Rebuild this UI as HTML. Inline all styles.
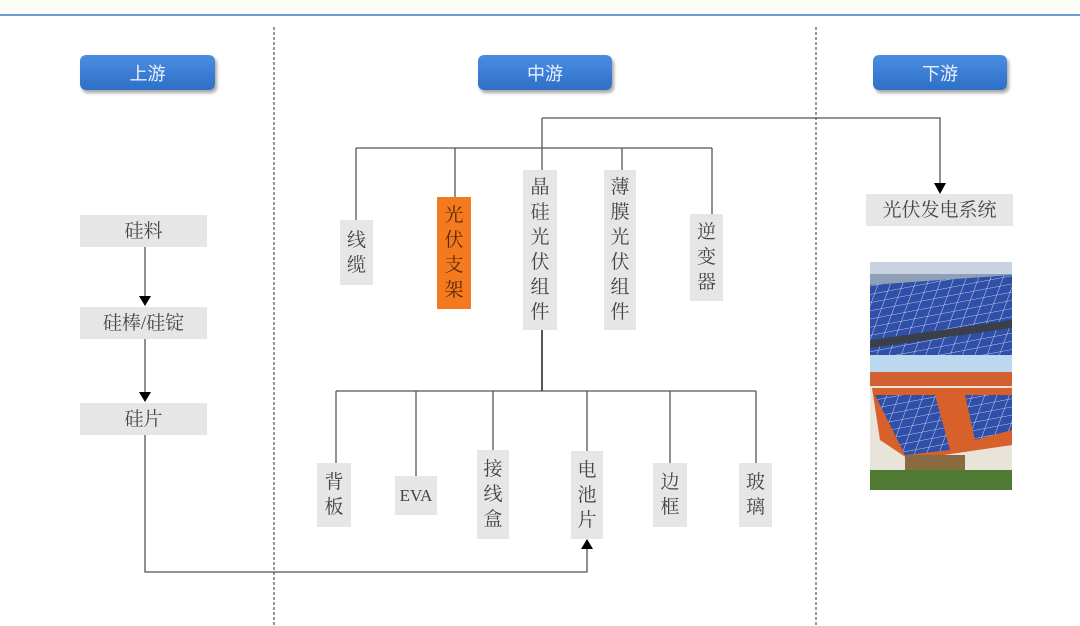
<!DOCTYPE html>
<html><head><meta charset="utf-8"><style>
body{margin:0;width:1080px;height:626px;background:#fff;overflow:hidden;position:relative;font-family:"Liberation Serif","Noto Serif CJK SC",serif;}
.b{position:absolute;background:#e6e6e6;color:#444;font-size:19px;display:flex;align-items:center;justify-content:center;text-align:center;line-height:25px;}
.v{flex-direction:column;}
.h{position:absolute;background:linear-gradient(#4a8ee0,#2f6fc8);border-radius:6px;color:#e8f0ff;font-size:18px;display:flex;align-items:center;justify-content:center;box-shadow:2px 3px 3px rgba(0,0,0,.35);font-family:"Noto Sans CJK SC",sans-serif;}
svg{position:absolute;left:0;top:0;}
</style></head><body>
<svg width="1080" height="626">
<rect x="0" y="0" width="1080" height="14" fill="#fdfdf8"/>
<line x1="0" y1="15" x2="1080" y2="15" stroke="#3a78c8" stroke-width="1.5"/>
<line x1="274" y1="27" x2="274" y2="626" stroke="#333" stroke-dasharray="3,2"/>
<line x1="816" y1="27" x2="816" y2="626" stroke="#333" stroke-dasharray="3,2"/>
<g stroke="#555" stroke-width="1.3" fill="none">
<line x1="145" y1="247" x2="145" y2="298"/>
<line x1="145" y1="339" x2="145" y2="394"/>
<polyline points="145,435 145,572 587,572 587,548"/>
<line x1="356" y1="148" x2="712" y2="148"/>
<line x1="356" y1="148" x2="356" y2="220"/>
<line x1="455" y1="148" x2="455" y2="197"/>
<line x1="542" y1="118" x2="542" y2="170"/>
<line x1="622" y1="148" x2="622" y2="170"/>
<line x1="712" y1="148" x2="712" y2="214"/>
<polyline points="542,118 940,118 940,184"/>
<line x1="542" y1="330" x2="542" y2="391" stroke-width="2"/>
<line x1="336" y1="391" x2="756" y2="391"/>
<line x1="336" y1="391" x2="336" y2="463"/>
<line x1="416" y1="391" x2="416" y2="476"/>
<line x1="493" y1="391" x2="493" y2="450"/>
<line x1="587" y1="391" x2="587" y2="451"/>
<line x1="670" y1="391" x2="670" y2="463"/>
<line x1="756" y1="391" x2="756" y2="463"/>
</g>
<g fill="#000">
<polygon points="139,296 151,296 145,306"/>
<polygon points="139,392 151,392 145,402"/>
<polygon points="934,183 946,183 940,194"/>
<polygon points="581,549 593,549 587,539"/>
</g>
<defs>
<pattern id="p" width="12" height="9" patternUnits="userSpaceOnUse" patternTransform="skewX(-30) rotate(-12)">
<rect width="12" height="9" fill="#2f4fa8"/><path d="M0 0H12M0 0V9" stroke="#cfd8f0" stroke-width="1"/></pattern>
</defs>
<rect x="870" y="262" width="142" height="93" fill="#8ea0b8"/>
<rect x="870" y="262" width="142" height="12" fill="#c8d2e0"/>
<polygon points="870,285 1012,275 1012,355 870,355" fill="url(#p)"/>
<polygon points="870,340 1012,320 1012,328 870,348" fill="#3a3f4a"/>
<rect x="870" y="355" width="142" height="135" fill="#e8e4da"/>
<rect x="870" y="355" width="142" height="20" fill="#bcd8ee"/>
<rect x="870" y="372" width="142" height="14" fill="#d26030"/>
<polygon points="872,388 1012,388 1012,445 910,460 880,440" fill="#d8602a"/>
<polygon points="875,395 935,395 950,450 905,455" fill="url(#p)"/>
<polygon points="965,395 1012,395 1012,430 975,440" fill="url(#p)"/>
<rect x="905" y="455" width="60" height="20" fill="#8a6a40"/>
<rect x="870" y="470" width="142" height="20" fill="#4e7a34"/>
</svg>
<div class="h" style="left:80px;top:55px;width:135px;height:35px">上游</div>
<div class="h" style="left:478px;top:55px;width:134px;height:35px">中游</div>
<div class="h" style="left:873px;top:55px;width:134px;height:35px">下游</div>
<div class="b" style="left:80px;top:215px;width:127px;height:32px">硅料</div>
<div class="b" style="left:80px;top:307px;width:127px;height:32px">硅棒/硅锭</div>
<div class="b" style="left:80px;top:403px;width:127px;height:32px">硅片</div>
<div class="b v" style="left:340px;top:220px;width:33px;height:65px">线<br>缆</div>
<div class="b v" style="left:437px;top:197px;width:34px;height:112px;background:#f47a20;color:#5a2a00">光<br>伏<br>支<br>架</div>
<div class="b v" style="left:523px;top:170px;width:34px;height:160px">晶<br>硅<br>光<br>伏<br>组<br>件</div>
<div class="b v" style="left:604px;top:170px;width:32px;height:160px">薄<br>膜<br>光<br>伏<br>组<br>件</div>
<div class="b v" style="left:690px;top:214px;width:33px;height:87px">逆<br>变<br>器</div>
<div class="b v" style="left:317px;top:463px;width:34px;height:64px">背<br>板</div>
<div class="b" style="left:395px;top:476px;width:42px;height:39px;font-size:17px">EVA</div>
<div class="b v" style="left:477px;top:450px;width:32px;height:89px">接<br>线<br>盒</div>
<div class="b v" style="left:571px;top:451px;width:32px;height:88px">电<br>池<br>片</div>
<div class="b v" style="left:653px;top:463px;width:34px;height:64px">边<br>框</div>
<div class="b v" style="left:739px;top:463px;width:33px;height:64px">玻<br>璃</div>
<div class="b" style="left:866px;top:194px;width:147px;height:32px">光伏发电系统</div>
</body></html>
